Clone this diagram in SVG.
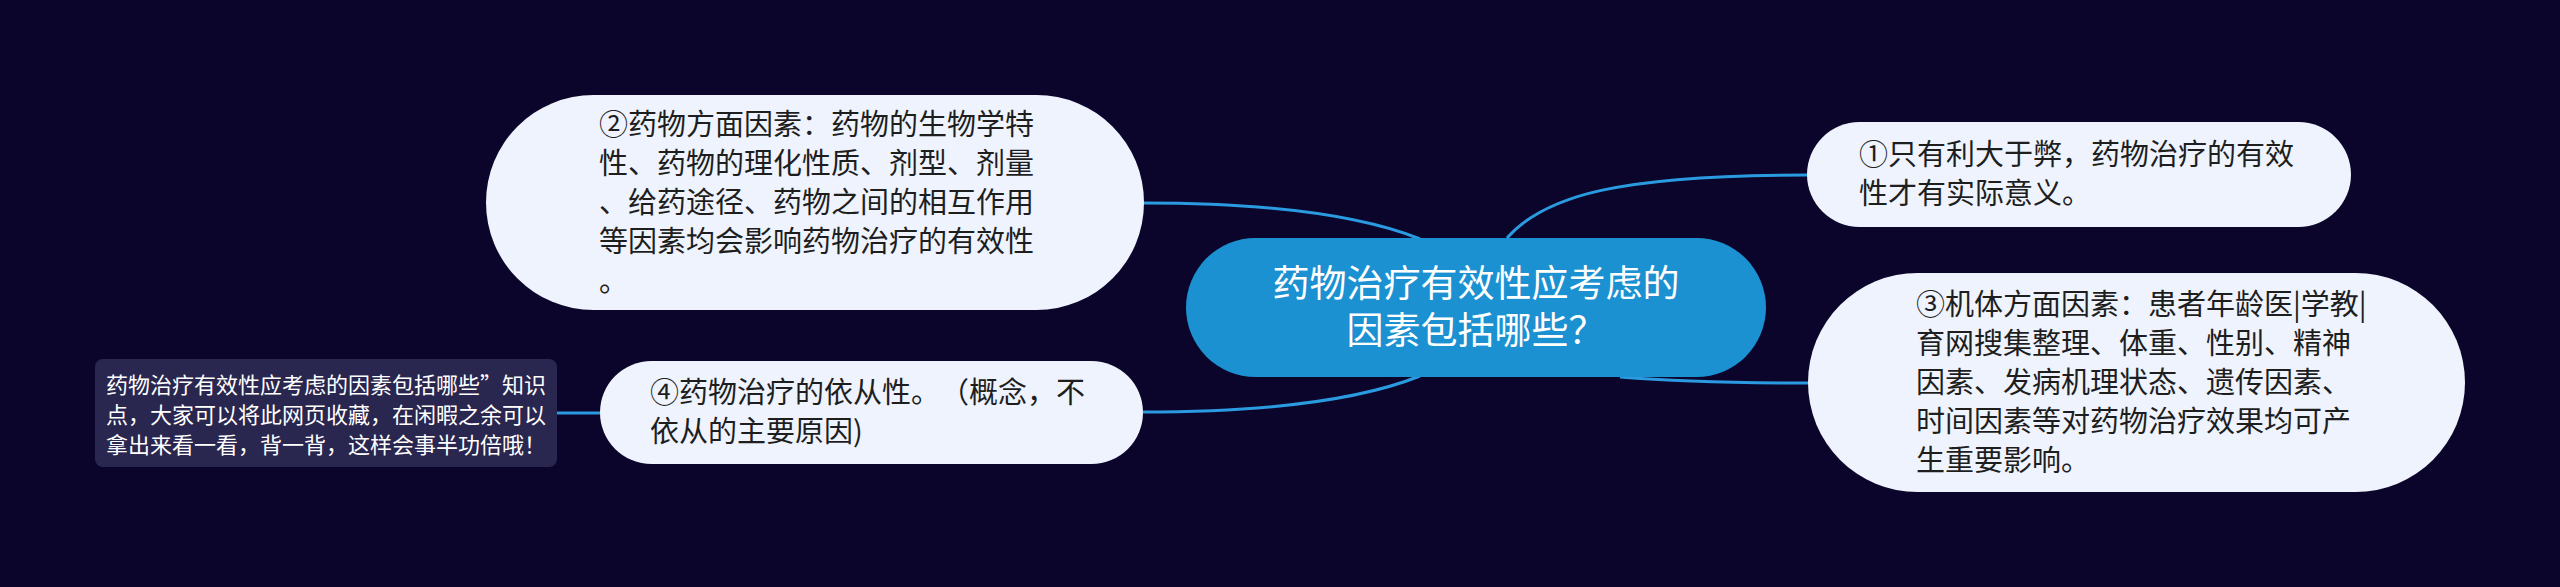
<svg xmlns="http://www.w3.org/2000/svg" width="2560" height="587" viewBox="0 0 2560 587">
<defs>
<style>
.bg{fill:#0b052b}
.leaf{fill:#eef3fd}
.root{fill:#1b91d2}
.note{fill:#29264f}
.edge{fill:none;stroke:#2a9be0;stroke-width:3}
text{text-spacing-trim:space-all}
.t{font-family:"Noto Sans CJK SC","Noto Sans",sans-serif;font-size:29px;fill:#1e1e1e}
.rt{font-family:"Noto Sans CJK SC","Noto Sans",sans-serif;font-size:37px;fill:#ffffff;text-anchor:middle}
.nt{font-family:"Noto Sans CJK SC","Noto Sans",sans-serif;font-size:22px;fill:#ffffff}
</style>
</defs>
<rect class="bg" x="0" y="0" width="2560" height="587"/>
<g id="connectors">
<path class="edge" d="M1507,238 C1545,195 1620,175 1808,175"/>
<path class="edge" d="M1420,239 C1360,215 1270,203 1143,203"/>
<path class="edge" d="M1420,376 C1360,400 1270,412 1143,412"/>
<path class="edge" d="M1620,377 C1680,382 1740,383 1808,383"/>
<path class="edge" d="M557,413 L601,413"/>
</g>
<g id="root">
<rect class="root" x="1186" y="238" width="580" height="139" rx="69.5"/>
<text class="rt" x="1476" y="297">药物治疗有效性应考虑的</text>
<text class="rt" x="1476" y="344">因素包括哪些？</text>
</g>
<g id="node1">
<rect class="leaf" x="1807" y="122" width="544" height="105" rx="52.5"/>
<text class="t" x="1859" y="165">①只有利大于弊，药物治疗的有效</text>
<text class="t" x="1859" y="204">性才有实际意义。</text>
</g>
<g id="node2">
<rect class="leaf" x="486" y="95" width="658" height="215" rx="107.5"/>
<text class="t" x="599" y="135">②药物方面因素：药物的生物学特</text>
<text class="t" x="599" y="174">性、药物的理化性质、剂型、剂量</text>
<text class="t" x="599" y="213">、给药途径、药物之间的相互作用</text>
<text class="t" x="599" y="252">等因素均会影响药物治疗的有效性</text>
<text class="t" x="599" y="292">。</text>
</g>
<g id="node3">
<rect class="leaf" x="1808" y="273" width="657" height="219" rx="109.5"/>
<text class="t" x="1916" y="315">③机体方面因素：患者年龄医|学教|</text>
<text class="t" x="1916" y="354">育网搜集整理、体重、性别、精神</text>
<text class="t" x="1916" y="393">因素、发病机理状态、遗传因素、</text>
<text class="t" x="1916" y="432">时间因素等对药物治疗效果均可产</text>
<text class="t" x="1916" y="471">生重要影响。</text>
</g>
<g id="node4">
<rect class="leaf" x="600" y="361" width="543" height="103" rx="51.5"/>
<text class="t" x="650" y="403">④药物治疗的依从性。（概念，不</text>
<text class="t" x="650" y="442">依从的主要原因)</text>
</g>
<g id="note">
<rect class="note" x="95" y="359" width="462" height="108" rx="8"/>
<text class="nt" x="106" y="393">药物治疗有效性应考虑的因素包括哪些”知识</text>
<text class="nt" x="106" y="423">点，大家可以将此网页收藏，在闲暇之余可以</text>
<text class="nt" x="106" y="453">拿出来看一看，背一背，这样会事半功倍哦！</text>
</g>
</svg>
